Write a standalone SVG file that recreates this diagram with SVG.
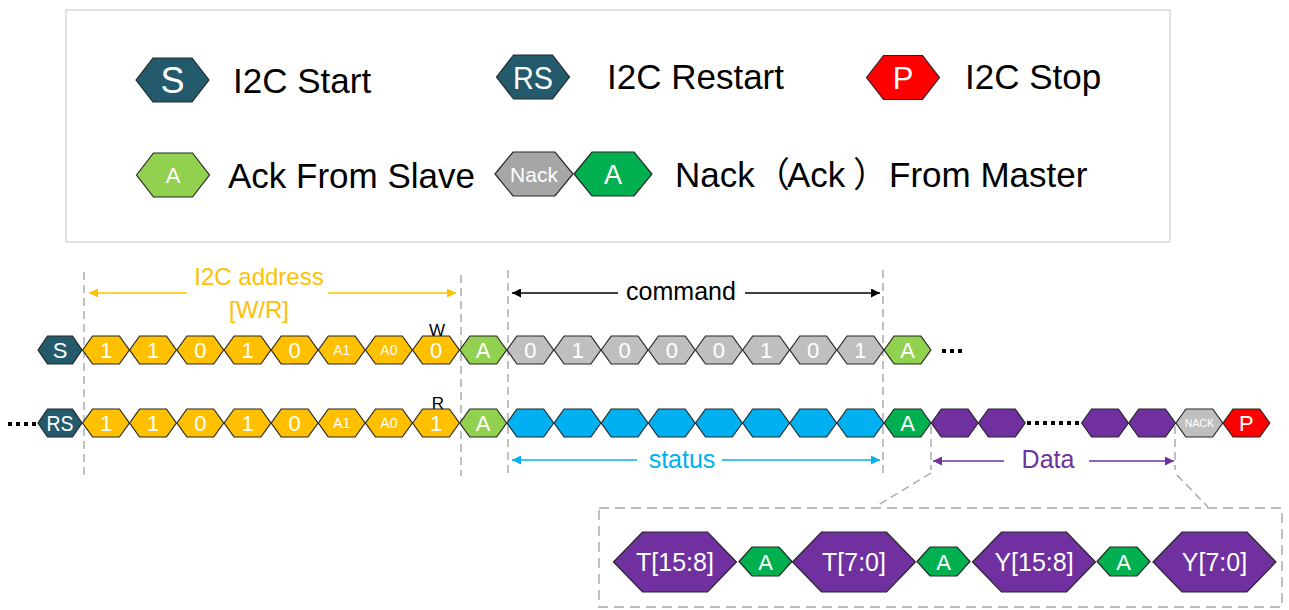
<svg xmlns="http://www.w3.org/2000/svg" xmlns:xlink="http://www.w3.org/1999/xlink" width="1289" height="610" viewBox="0 0 1289 610">
<style>
text{font-family:"Liberation Sans","Noto Sans CJK SC",sans-serif}
.hx{stroke:#262626;stroke-width:1.2}
.tl{fill:#235B6C}.or{fill:#FFC000}.lg{fill:#92D050}.dg{fill:#00B050}.gr{fill:#BFBFBF}.ng{fill:#A6A6A6}.bl{fill:#00B0F0}.pu{fill:#7030A0}.rd{fill:#FF0000}
.w{fill:#FFFFFF;text-anchor:middle}
.b21{font-size:22px}.b14{font-size:14px}
.lab{font-size:35px;fill:#000}
.guide{stroke:#A6A6A6;stroke-width:1.4;stroke-dasharray:8 5;fill:none}
.dots{stroke:#000;stroke-width:4;stroke-dasharray:4 4}
</style>
<defs>
<path id="h" d="M-23.4,0 L-13.4,-14 L13.4,-14 L23.4,0 L13.4,14 L-13.4,14 Z"/>
<path id="hs" d="M-22,0 L-12.5,-14 L12.5,-14 L22,0 L12.5,14 L-12.5,14 Z"/>
<path id="hl" d="M-36.5,0 L-19.5,-22 L19.5,-22 L36.5,0 L19.5,22 L-19.5,22 Z"/>
<path id="hw" d="M-39,0 L-21,-22 L21,-22 L39,0 L21,22 L-21,22 Z"/>
<path id="hb" d="M-61.5,0 L-32.5,-30 L32.5,-30 L61.5,0 L32.5,30 L-32.5,30 Z"/>
<path id="ha" d="M-26.5,0 L-13.5,-14.5 L13.5,-14.5 L26.5,0 L13.5,14.5 L-13.5,14.5 Z"/>
<marker id="mo" viewBox="0 0 10 10" refX="10" refY="5" markerWidth="11" markerHeight="9" markerUnits="userSpaceOnUse" orient="auto"><path d="M0,0 L10,5 L0,10 Z" fill="#FFC000"/></marker>
<marker id="mk" viewBox="0 0 10 10" refX="10" refY="5" markerWidth="11" markerHeight="9" markerUnits="userSpaceOnUse" orient="auto"><path d="M0,0 L10,5 L0,10 Z" fill="#000"/></marker>
<marker id="mb" viewBox="0 0 10 10" refX="10" refY="5" markerWidth="11" markerHeight="9" markerUnits="userSpaceOnUse" orient="auto"><path d="M0,0 L10,5 L0,10 Z" fill="#00B0F0"/></marker>
<marker id="mp" viewBox="0 0 10 10" refX="10" refY="5" markerWidth="11" markerHeight="9" markerUnits="userSpaceOnUse" orient="auto"><path d="M0,0 L10,5 L0,10 Z" fill="#7030A0"/></marker>
</defs>
<rect width="1289" height="610" fill="#FFFFFF"/>

<!-- Legend -->
<g id="legend">
<rect x="66" y="10" width="1104" height="232" fill="#FFFFFF" stroke="#D9D9D9" stroke-width="1.5"/>
<g id="leg-start" transform="translate(172.5,80)"><use href="#hl" class="hx tl"/><text class="w" y="13" font-size="36">S</text></g>
<text class="lab" x="233" y="93">I2C Start</text>
<g id="leg-restart" transform="translate(533,77)"><use href="#hl" class="hx tl"/><text class="w" y="11.5" font-size="32" textLength="40" lengthAdjust="spacingAndGlyphs" x="-20" style="text-anchor:start">RS</text></g>
<text class="lab" x="607" y="89">I2C Restart</text>
<g id="leg-stop" transform="translate(903,77.5)"><use href="#hl" class="hx rd"/><text class="w" y="11" font-size="31">P</text></g>
<text class="lab" x="965" y="89">I2C Stop</text>
<g id="leg-ack-slave" transform="translate(173,175)"><use href="#hl" class="hx lg"/><text class="w" y="8" font-size="22">A</text></g>
<text class="lab" x="228" y="188">Ack From Slave</text>
<g id="leg-nack" transform="translate(534,174)"><use href="#hw" class="hx ng"/><text class="w" y="8" font-size="21">Nack</text></g>
<g id="leg-ack-master" transform="translate(613,174)"><use href="#hw" class="hx dg"/><text class="w" y="10" font-size="27">A</text></g>
<text class="lab" x="675" y="187">Nack<tspan x="755">（</tspan><tspan x="787">Ack</tspan><tspan x="853">）</tspan><tspan x="889">From Master</tspan></text>
</g>

<!-- Connectors / guides -->
<g id="connectors">
<line class="guide" x1="84" y1="272" x2="84" y2="476"/>
<line class="guide" x1="461" y1="275" x2="461" y2="476"/>
<line class="guide" x1="508" y1="270" x2="508" y2="476"/>
<line class="guide" x1="883" y1="270" x2="883" y2="476"/>
<line class="guide" x1="931" y1="426" x2="931" y2="470"/>
<line class="guide" x1="1175" y1="426" x2="1175" y2="470"/>
<line class="guide" x1="931" y1="473" x2="875" y2="507"/>
<line class="guide" x1="1177" y1="475" x2="1208" y2="507"/>
<rect class="guide" x="599" y="508" width="683" height="99" style="stroke-dasharray:10 6"/>
<line x1="187" y1="293" x2="89" y2="293" stroke="#FFC000" stroke-width="1.3" marker-end="url(#mo)"/>
<line x1="328" y1="293" x2="456" y2="293" stroke="#FFC000" stroke-width="1.3" marker-end="url(#mo)"/>
<line x1="618" y1="293" x2="512" y2="293" stroke="#000" stroke-width="1.3" marker-end="url(#mk)"/>
<line x1="745" y1="293" x2="880" y2="293" stroke="#000" stroke-width="1.3" marker-end="url(#mk)"/>
<line x1="637" y1="460" x2="512" y2="460" stroke="#00B0F0" stroke-width="1.3" marker-end="url(#mb)"/>
<line x1="722" y1="460" x2="880" y2="460" stroke="#00B0F0" stroke-width="1.3" marker-end="url(#mb)"/>
<line x1="1004" y1="461" x2="933" y2="461" stroke="#7030A0" stroke-width="1.3" marker-end="url(#mp)"/>
<line x1="1089" y1="461" x2="1174" y2="461" stroke="#7030A0" stroke-width="1.3" marker-end="url(#mp)"/>
<line class="dots" x1="942" y1="351" x2="966" y2="351"/>
<line class="dots" x1="8" y1="424" x2="36" y2="424"/>
<line class="dots" x1="1027" y1="423" x2="1079" y2="423"/>
</g>

<!-- Labels -->
<g id="labels">
<text x="259" y="285" font-size="24" fill="#FFC000" text-anchor="middle">I2C address</text>
<text x="259" y="318" font-size="24" fill="#FFC000" text-anchor="middle">[W/R]</text>
<text x="681" y="300" font-size="25" fill="#000" text-anchor="middle">command</text>
<text x="682" y="468" font-size="25" fill="#00B0F0" text-anchor="middle">status</text>
<text x="1048" y="468" font-size="25" fill="#7030A0" text-anchor="middle">Data</text>
<text x="437" y="336" font-size="17" fill="#000" text-anchor="middle">W</text>
<text x="438" y="409" font-size="17" fill="#000" text-anchor="middle">R</text>
</g>

<!-- Row 1: write -->
<g id="row1">
<g id="r1-s" transform="translate(60,350)"><use href="#hs" class="hx tl"/><text class="w b21" y="8">S</text></g>
<g id="r1-b7" transform="translate(106,350)"><use href="#h" class="hx or"/><text class="w b21" y="8">1</text></g>
<g id="r1-b6" transform="translate(153,350)"><use href="#h" class="hx or"/><text class="w b21" y="8">1</text></g>
<g id="r1-b5" transform="translate(200.3,350)"><use href="#h" class="hx or"/><text class="w b21" y="8">0</text></g>
<g id="r1-b4" transform="translate(247.5,350)"><use href="#h" class="hx or"/><text class="w b21" y="8">1</text></g>
<g id="r1-b3" transform="translate(294.6,350)"><use href="#h" class="hx or"/><text class="w b21" y="8">0</text></g>
<g id="r1-a1" transform="translate(341.7,350)"><use href="#h" class="hx or"/><text class="w b14" y="5">A1</text></g>
<g id="r1-a0" transform="translate(388.9,350)"><use href="#h" class="hx or"/><text class="w b14" y="5">A0</text></g>
<g id="r1-w" transform="translate(436,350)"><use href="#h" class="hx or"/><text class="w b21" y="8">0</text></g>
<g id="r1-ack1" transform="translate(483.2,350)"><use href="#h" class="hx lg"/><text class="w b21" y="8">A</text></g>
<g id="r1-c7" transform="translate(530.3,350)"><use href="#h" class="hx gr"/><text class="w b21" y="8">0</text></g>
<g id="r1-c6" transform="translate(577.5,350)"><use href="#h" class="hx gr"/><text class="w b21" y="8">1</text></g>
<g id="r1-c5" transform="translate(624.6,350)"><use href="#h" class="hx gr"/><text class="w b21" y="8">0</text></g>
<g id="r1-c4" transform="translate(671.8,350)"><use href="#h" class="hx gr"/><text class="w b21" y="8">0</text></g>
<g id="r1-c3" transform="translate(718.9,350)"><use href="#h" class="hx gr"/><text class="w b21" y="8">0</text></g>
<g id="r1-c2" transform="translate(766.1,350)"><use href="#h" class="hx gr"/><text class="w b21" y="8">1</text></g>
<g id="r1-c1" transform="translate(813.2,350)"><use href="#h" class="hx gr"/><text class="w b21" y="8">0</text></g>
<g id="r1-c0" transform="translate(860.4,350)"><use href="#h" class="hx gr"/><text class="w b21" y="8">1</text></g>
<g id="r1-ack2" transform="translate(907.5,350)"><use href="#h" class="hx lg"/><text class="w b21" y="8">A</text></g>
</g>

<!-- Row 2: read -->
<g id="row2">
<g id="r2-rs" transform="translate(60,423)"><use href="#hs" class="hx tl"/><text class="w" y="8" font-size="22" x="-13.5" textLength="27" lengthAdjust="spacingAndGlyphs" style="text-anchor:start">RS</text></g>
<g id="r2-b7" transform="translate(106,423)"><use href="#h" class="hx or"/><text class="w b21" y="8">1</text></g>
<g id="r2-b6" transform="translate(153,423)"><use href="#h" class="hx or"/><text class="w b21" y="8">1</text></g>
<g id="r2-b5" transform="translate(200.3,423)"><use href="#h" class="hx or"/><text class="w b21" y="8">0</text></g>
<g id="r2-b4" transform="translate(247.5,423)"><use href="#h" class="hx or"/><text class="w b21" y="8">1</text></g>
<g id="r2-b3" transform="translate(294.6,423)"><use href="#h" class="hx or"/><text class="w b21" y="8">0</text></g>
<g id="r2-a1" transform="translate(341.7,423)"><use href="#h" class="hx or"/><text class="w b14" y="5">A1</text></g>
<g id="r2-a0" transform="translate(388.9,423)"><use href="#h" class="hx or"/><text class="w b14" y="5">A0</text></g>
<g id="r2-r" transform="translate(436,423)"><use href="#h" class="hx or"/><text class="w b21" y="8">1</text></g>
<g id="r2-ack1" transform="translate(483.2,423)"><use href="#h" class="hx lg"/><text class="w b21" y="8">A</text></g>
<g id="r2-s7" transform="translate(530.3,423)"><use href="#h" class="hx bl"/></g>
<g id="r2-s6" transform="translate(577.5,423)"><use href="#h" class="hx bl"/></g>
<g id="r2-s5" transform="translate(624.6,423)"><use href="#h" class="hx bl"/></g>
<g id="r2-s4" transform="translate(671.8,423)"><use href="#h" class="hx bl"/></g>
<g id="r2-s3" transform="translate(718.9,423)"><use href="#h" class="hx bl"/></g>
<g id="r2-s2" transform="translate(766.1,423)"><use href="#h" class="hx bl"/></g>
<g id="r2-s1" transform="translate(813.2,423)"><use href="#h" class="hx bl"/></g>
<g id="r2-s0" transform="translate(860.4,423)"><use href="#h" class="hx bl"/></g>
<g id="r2-ack2" transform="translate(907.5,423)"><use href="#h" class="hx dg"/><text class="w b21" y="8">A</text></g>
<g id="r2-d1" transform="translate(954.7,423)"><use href="#h" class="hx pu"/></g>
<g id="r2-d2" transform="translate(1001.8,423)"><use href="#h" class="hx pu"/></g>
<g id="r2-d3" transform="translate(1105,423)"><use href="#h" class="hx pu"/></g>
<g id="r2-d4" transform="translate(1152.1,423)"><use href="#h" class="hx pu"/></g>
<g id="r2-nack" transform="translate(1199.3,423)"><use href="#h" class="hx gr"/><text class="w" y="3.8" font-size="10.5">NACK</text></g>
<g id="r2-p" transform="translate(1246.4,423)"><use href="#h" class="hx rd"/><text class="w b21" y="8">P</text></g>
</g>

<!-- Data detail -->
<g id="detail">
<g id="d-t158" transform="translate(675,562)"><use href="#hb" class="hx pu"/><text class="w" y="9" font-size="25">T[15:8]</text></g>
<g id="d-a1" transform="translate(765.5,561.5)"><use href="#ha" class="hx dg"/><text class="w" y="8" font-size="22">A</text></g>
<g id="d-t70" transform="translate(854,562)"><use href="#hb" class="hx pu"/><text class="w" y="9" font-size="25">T[7:0]</text></g>
<g id="d-a2" transform="translate(943.5,561.5)"><use href="#ha" class="hx dg"/><text class="w" y="8" font-size="22">A</text></g>
<g id="d-y158" transform="translate(1034,562)"><use href="#hb" class="hx pu"/><text class="w" y="9" font-size="25">Y[15:8]</text></g>
<g id="d-a3" transform="translate(1123.5,561.5)"><use href="#ha" class="hx dg"/><text class="w" y="8" font-size="22">A</text></g>
<g id="d-y70" transform="translate(1214.5,562)"><use href="#hb" class="hx pu"/><text class="w" y="9" font-size="25">Y[7:0]</text></g>
</g>
</svg>
